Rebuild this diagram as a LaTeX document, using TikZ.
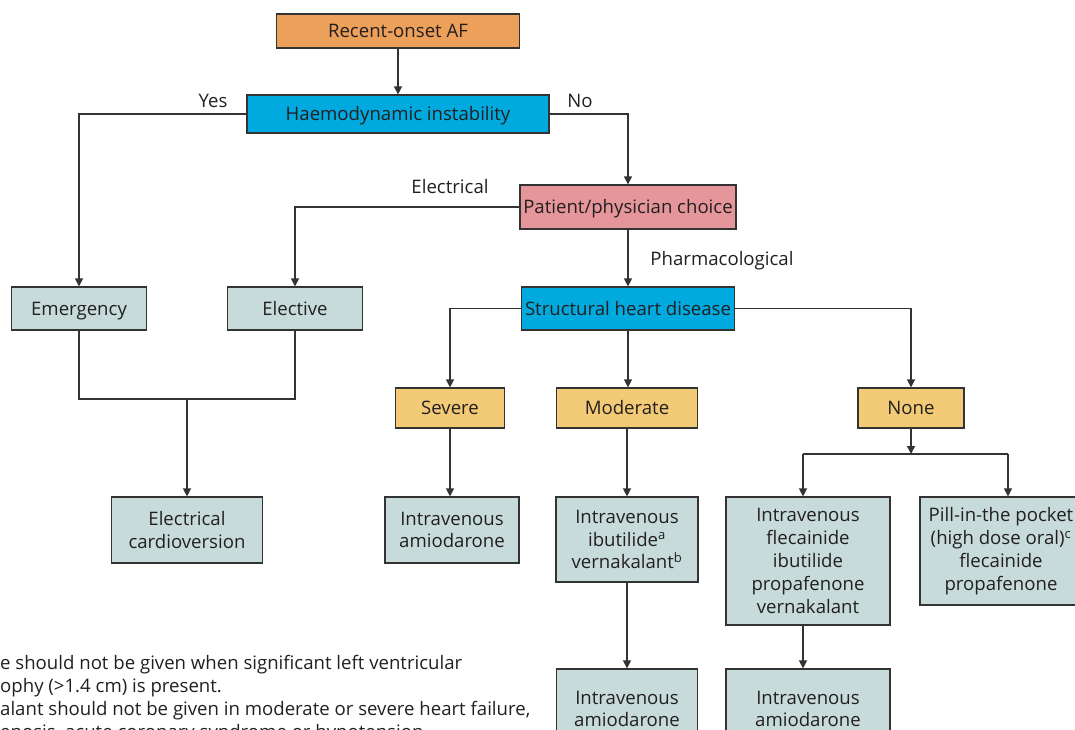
\documentclass[tikz,border=0pt]{standalone}
\usepackage{fontspec}
\setmainfont{Open Sans}
\usetikzlibrary{arrows.meta,positioning}
\definecolor{cOrange}{HTML}{EDA05A}
\definecolor{cCyan}{HTML}{00AADF}
\definecolor{cPink}{HTML}{E5969B}
\definecolor{cGrey}{HTML}{C7DCDA}
\definecolor{cYellow}{HTML}{F3CB76}
\definecolor{cLine}{HTML}{333333}
\definecolor{cText}{HTML}{231F20}
\begin{document}
\begin{tikzpicture}[x=1pt,y=-1pt,
  font=\fontsize{18.6}{22.8}\selectfont,
  every node/.style={text=cText},
  box/.style={draw=cLine,line width=1.2pt,align=center,inner sep=0pt},
  one/.style={text height=17.3pt,text depth=4pt},
  lbl/.style={inner sep=0pt},
  arr/.style={draw=cLine,line width=1.3pt,-{Triangle[length=8pt,width=8pt]}},
  ln/.style={draw=cLine,line width=1.3pt},
  foot/.style={inner sep=0pt,anchor=base west}]
\useasboundingbox (0,0) rectangle (1075,730);
\clip (0,0) rectangle (1075,730);
% nodes
\node[box,one,fill=cOrange,minimum width=243pt,minimum height=34pt] (start) at (398,31) {Recent-onset AF};
\node[box,one,fill=cCyan,minimum width=302pt,minimum height=38pt] (haemo) at (398,114) {Haemodynamic instability};
\node[box,one,fill=cPink,minimum width=216pt,minimum height=44pt] (patient) at (628,207) {Patient/physician choice};
\node[box,one,fill=cCyan,minimum width=213pt,minimum height=43pt] (struct) at (628,308.5) {Structural heart disease};
\node[box,one,fill=cGrey,minimum width=135pt,minimum height=43pt] (emerg) at (79,308.5) {Emergency};
\node[box,one,fill=cGrey,minimum width=135pt,minimum height=43pt] (elective) at (295,308.5) {Elective};
\node[box,fill=cGrey,minimum width=151pt,minimum height=66pt] (ecv) at (187,530) {Electrical\\cardioversion};
\node[box,one,fill=cYellow,minimum width=109pt,minimum height=40pt] (severe) at (450,408) {Severe};
\node[box,one,fill=cYellow,minimum width=141pt,minimum height=40pt] (moderate) at (627,408) {Moderate};
\node[box,one,fill=cYellow,minimum width=106pt,minimum height=40pt] (none) at (911,408) {None};
\node[box,fill=cGrey,minimum width=134pt,minimum height=66pt] (ivam1) at (452,530) {Intravenous\\amiodarone};
\node[box,fill=cGrey,minimum width=142pt,minimum height=85pt] (ivib) at (627,539.5) {Intravenous\\ibutilide\textsuperscript{a}\\vernakalant\textsuperscript{b}};
\node[box,fill=cGrey,minimum width=164pt,minimum height=128pt] (flec) at (808,561) {Intravenous\\flecainide\\ibutilide\\propafenone\\vernakalant};
\node[box,fill=cGrey,minimum width=162pt,minimum height=108pt] (pill) at (1001,551) {Pill-in-the pocket\\(high dose oral)\textsuperscript{c}\\flecainide\\propafenone};
\node[box,fill=cGrey,minimum width=141pt,minimum height=80pt] (ivam2) at (627,709) {Intravenous\\amiodarone};
\node[box,fill=cGrey,minimum width=164pt,minimum height=80pt] (ivam3) at (808,709) {Intravenous\\amiodarone};
% labels
\node[lbl] (yes) at (213,101) {Yes};
\node[lbl] (no) at (580,101) {No};
\node[lbl] (elec) at (450,187) {Electrical};
\node[lbl] (pharm) at (722,261) {Pharmacological};
% connectors
\coordinate (m) at (187,399);
\coordinate (jl) at (803,454);
\coordinate (jr) at (1008,454);
\coordinate (jc) at (911,454);
\draw[arr] (start) -- (haemo);
\draw[arr] (haemo.west) -| (emerg.north);
\draw[arr] (haemo.east) -| (patient.north);
\draw[arr] (patient.west) -| (elective.north);
\draw[arr] (patient) -- (struct);
\draw[ln] (emerg.south) |- (m) -| (elective.south);
\draw[arr] (m) -- (ecv);
\draw[arr] (struct.west) -| (severe.north);
\draw[arr] (struct.south) -- (struct.south |- moderate.north);
\draw[arr] (struct.east) -| (none.north);
\draw[arr] (severe.south) -- (severe.south |- ivam1.north);
\draw[arr] (moderate) -- (ivib);
\draw[arr] (none.south) -- (jc);
\draw[ln] (jl) -- (jr);
\draw[arr] (jl) -- (jl |- flec.north);
\draw[arr] (jr) -- (jr |- pill.north);
\draw[arr] (ivib) -- (ivam2);
\draw[arr] (jl |- flec.south) -- (jl |- ivam3.north);
% footnotes
\node[foot] (f1) at (0,669) {e should not be given when significant left ventricular};
\node[foot] (f2) at (0,692) {ophy (>1.4 cm) is present.};
\node[foot] (f3) at (0,715) {alant should not be given in moderate or severe heart failure,};
\node[foot] (f4) at (0,738) {enosis, acute coronary syndrome or hypotension.};
\end{tikzpicture}
\end{document}
